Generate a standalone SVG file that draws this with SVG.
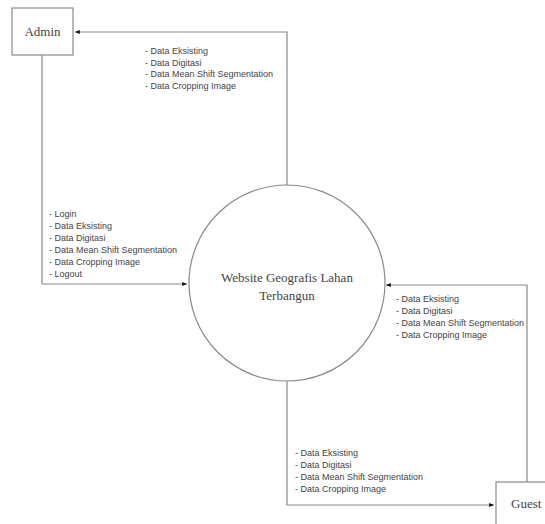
<svg xmlns="http://www.w3.org/2000/svg" width="545" height="524" viewBox="0 0 545 524">
<style>
.box{fill:#fff;stroke:#8a8a8a;stroke-width:1.2}
.conn{fill:none;stroke:#8a8a8a;stroke-width:1.2}
.lbl{font-family:"Liberation Sans",Arial,sans-serif;font-size:9px;fill:#444}
.nt{font-family:"Liberation Serif","Times New Roman",serif;font-size:13px;fill:#444}
</style>
<defs>
<marker id="ah" viewBox="0 0 10 10" refX="10" refY="5" markerWidth="4" markerHeight="4" orient="auto">
<path d="M0,1 L10,5 L0,9 z" fill="#111"/>
</marker>
</defs>
<g id="connectors">
<path class="conn" d="M287,185 L287,32 L75,32" marker-end="url(#ah)"/>
<path class="conn" d="M42,55 L42,284 L187,284" marker-end="url(#ah)"/>
<path class="conn" d="M527,482 L527,285 L386,285" marker-end="url(#ah)"/>
<path class="conn" d="M287,381 L287,505 L494,505" marker-end="url(#ah)"/>
</g>
<g id="labels">
<text class="lbl" x="145" y="54">- Data Eksisting</text>
<text class="lbl" x="145" y="66">- Data Digitasi</text>
<text class="lbl" x="145" y="77">- Data Mean Shift Segmentation</text>
<text class="lbl" x="145" y="89">- Data Cropping Image</text>
<text class="lbl" x="49" y="217">- Login</text>
<text class="lbl" x="49" y="229">- Data Eksisting</text>
<text class="lbl" x="49" y="241">- Data Digitasi</text>
<text class="lbl" x="49" y="253">- Data Mean Shift Segmentation</text>
<text class="lbl" x="49" y="265">- Data Cropping Image</text>
<text class="lbl" x="49" y="277">- Logout</text>
<text class="lbl" x="396" y="302">- Data Eksisting</text>
<text class="lbl" x="396" y="314">- Data Digitasi</text>
<text class="lbl" x="396" y="326">- Data Mean Shift Segmentation</text>
<text class="lbl" x="396" y="338">- Data Cropping Image</text>
<text class="lbl" x="295" y="456">- Data Eksisting</text>
<text class="lbl" x="295" y="468">- Data Digitasi</text>
<text class="lbl" x="295" y="480">- Data Mean Shift Segmentation</text>
<text class="lbl" x="295" y="492">- Data Cropping Image</text>
</g>
<g id="admin">
<rect class="box" x="12" y="8" width="61" height="47"/>
<text class="nt" x="42.5" y="36" text-anchor="middle">Admin</text>
</g>
<g id="website">
<circle class="box" cx="287" cy="283" r="98"/>
<text class="nt" x="287" y="282" text-anchor="middle">Website Geografis Lahan</text>
<text class="nt" x="287" y="300" text-anchor="middle">Terbangun</text>
</g>
<g id="guest">
<rect class="box" x="496" y="482" width="60" height="50"/>
<text class="nt" x="511" y="508">Guest</text>
</g>
</svg>
